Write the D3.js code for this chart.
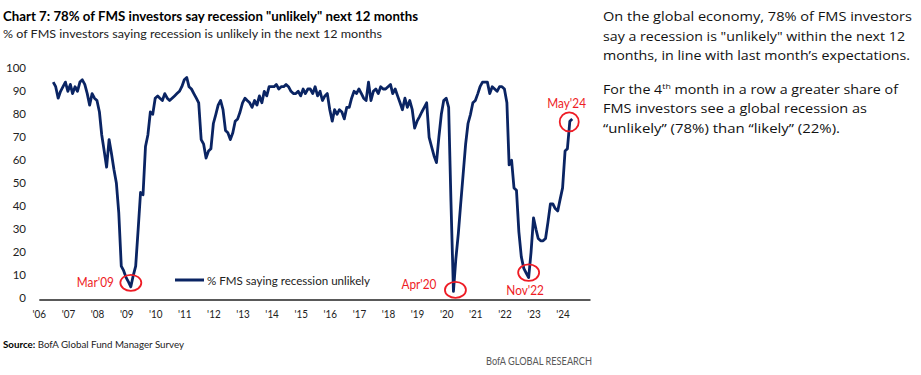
<!DOCTYPE html>
<html>
<head>
<meta charset="utf-8">
<script src="https://cdn.jsdelivr.net/npm/d3@7"></script>
<style>
  body { margin: 0; background: #fff; }
  svg { display: block; font-family: Lato, "Open Sans", sans-serif; }
</style>
</head>
<body>
<svg id="svg" width="921" height="375"></svg>
<script>

// monthly survey readings, first one is Jul 2006
var startMonth = new Date(2006, 6, 1);
var unlikely = [
  94, 92, 87, 90, 92, 94,                              // 2006 H2
  90, 93, 89, 92, 90, 94, 95, 93, 89, 84, 89, 87,      // 2007
  86, 81, 71, 64, 57, 69, 63, 56, 50, 37, 14, 12,      // 2008
  9, 7, 5, 10, 14, 30, 46, 45, 66, 71, 81, 80,         // 2009
  87, 88, 87, 86, 89, 87, 86, 87, 88, 89, 90, 92,      // 2010
  95, 96, 92, 91, 89, 87, 85, 69, 67, 61, 64, 65,      // 2011
  76, 80, 84, 86, 82, 73, 72, 69, 72, 77, 78, 81,      // 2012
  85, 87, 86, 85, 83, 86, 84, 88, 85, 90, 88, 92,      // 2013
  92, 92, 93, 91, 92, 92, 93, 92, 90, 89, 89, 90,      // 2014
  88, 91, 89, 91, 91, 89, 92, 88, 90, 86, 88, 89,      // 2015
  82, 77, 82, 80, 82, 81, 78, 83, 83, 87, 90, 89,      // 2016
  91, 89, 87, 86, 94, 86, 90, 91, 89, 92, 91, 91,      // 2017
  92, 93, 89, 91, 88, 85, 82, 87, 83, 86, 82, 74,      // 2018
  77, 79, 81, 83, 85, 70, 66, 62, 59, 70, 80, 86,      // 2019
  87, 83, 42, 3, 17, 28, 41, 54, 67, 76, 80, 85,       // 2020
  86, 89, 92, 94, 94, 94, 89, 92, 91, 90, 92, 92,      // 2021
  91, 85, 58, 60, 48, 47, 29, 18, 13, 11, 9, 20,       // 2022
  35, 30, 26, 25, 25, 26, 33, 41, 41, 39, 38, 43,      // 2023
  48, 64, 65, 77, 78                                   // 2024
];

var yTicks = [0, 10, 20, 30, 40, 50, 60, 70, 80, 90, 100];
var yearTicks = d3.range(2006, 2025);

var calloutLabels = ["Mar'09", "Apr'20", "Nov'22", "May'24"];
var calloutMonths = ["2009-03", "2020-04", "2022-11", "2024-05"];

var titleText = 'Chart 7: 78% of FMS investors say recession "unlikely" next 12 months';
var subtitleText = "% of FMS investors saying recession is unlikely in the next 12 months";
var legendText = "% FMS saying recession unlikely";

var data = unlikely.map(function (v, i) {
  return { date: d3.timeMonth.offset(startMonth, i), value: v };
});

var svg = d3.select("#svg");
var navy = "#0a2463";
var red = "#ee1c25";

// squeeze text to the width seen in the reference
var fit = function (sel, w) {
  sel.attr("textLength", w).attr("lengthAdjust", "spacingAndGlyphs");
};

var xScale = d3.scaleTime()
  .domain([new Date(2006, 0, 1), new Date(2024, 11, 10)])
  .range([38.8, 590]);

var yScale = d3.scaleLinear()
  .domain([0, 100])
  .range([298.3, 68.3]);

// titles
svg.append("text").attr("x", 3).attr("y", 20.5)
  .attr("font-size", 12.8).attr("font-weight", 700).attr("fill", "#000")
  .text(titleText).call(fit, 415);
svg.append("text").attr("x", 3).attr("y", 37.5)
  .attr("font-size", 12).attr("fill", "#222")
  .text(subtitleText).call(fit, 379);

// y axis, labels only
var yAxis = svg.append("g")
  .attr("transform", "translate(26,0)")
  .call(d3.axisLeft(yScale).tickValues(yTicks).tickSize(0).tickPadding(0));
yAxis.select(".domain").remove();
yAxis.selectAll("text")
  .attr("font-family", "Lato, sans-serif").attr("font-size", 11.5).attr("fill", "#222");

// x axis
var xAxis = svg.append("g")
  .attr("transform", "translate(0,299.5)")
  .call(d3.axisBottom(xScale)
    .tickValues(yearTicks.map(function (y) { return new Date(y, 0, 1); }))
    .tickFormat(function (d) { return "'" + d3.timeFormat("%y")(d); })
    .tickSize(0).tickPadding(10));
xAxis.select(".domain").attr("stroke", "#222").attr("stroke-width", 1.5);
xAxis.selectAll("text")
  .attr("font-family", "Lato, sans-serif").attr("font-size", 12).attr("fill", "#222")
  .call(fit, 13.5);

// the series
var line = d3.line()
  .x(function (d) { return xScale(d.date); })
  .y(function (d) { return yScale(d.value); });

svg.append("path")
  .datum(data)
  .attr("fill", "none")
  .attr("stroke", navy)
  .attr("stroke-width", 2.8)
  .attr("stroke-linejoin", "round")
  .attr("d", line);

// legend
svg.append("line").attr("x1", 175).attr("x2", 204).attr("y1", 280).attr("y2", 280)
  .attr("stroke", navy).attr("stroke-width", 3);
svg.append("text").attr("x", 207).attr("y", 284.5)
  .attr("font-size", 12).attr("fill", "#222")
  .text(legendText).call(fit, 163);

// red call-outs: circle nudge (dx, dy), radii, label anchor offset and width
var calloutStyle = [
  { dx: 0, dy: -4, rx: 10.5, ry: 8, tx: -17, ty: 0, anchor: "end", w: 37 },
  { dx: 2, dy: -1.5, rx: 10.5, ry: 8, tx: -19, ty: -5, anchor: "end", w: 35 },
  { dx: 0, dy: -5, rx: 10.5, ry: 8.3, tx: -3.5, ty: 17.5, anchor: "middle", w: 37.6 },
  { dx: -3, dy: 3, rx: 9.5, ry: 9.5, tx: -2.6, ty: -18.4, anchor: "middle", w: 38.7 }
];

var parseMonth = d3.timeParse("%Y-%m");
calloutLabels.forEach(function (lab, i) {
  var d = parseMonth(calloutMonths[i]);
  var pt = data.find(function (p) { return +p.date === +d; });
  var s = calloutStyle[i];
  var cx = xScale(pt.date) + s.dx;
  var cy = yScale(pt.value) + s.dy;
  svg.append("ellipse").attr("cx", cx).attr("cy", cy).attr("rx", s.rx).attr("ry", s.ry)
    .attr("fill", "none").attr("stroke", red).attr("stroke-width", 1.8);
  svg.append("text").attr("x", cx + s.tx).attr("y", cy + s.ty).attr("dy", "0.35em")
    .attr("text-anchor", s.anchor).attr("font-size", 13).attr("fill", red)
    .text(lab).call(fit, s.w);
});

// source + branding
var src = svg.append("text").attr("x", 3).attr("y", 347.5)
  .attr("font-size", 10).attr("fill", "#222");
src.append("tspan").attr("font-weight", 700).attr("fill", "#000").text("Source:");
src.append("tspan").text(" BofA Global Fund Manager Survey");
src.call(fit, 181);

svg.append("text").attr("x", 592).attr("y", 365).attr("text-anchor", "end")
  .attr("font-size", 11.5).attr("fill", "#595959")
  .text("BofA GLOBAL RESEARCH").call(fit, 106);

// commentary on the right
var note = svg.append("g").attr("font-family", "'Open Sans', Lato, sans-serif")
  .attr("font-size", 13).attr("fill", "#111");
note.append("text").attr("x", 603).attr("y", 21)
  .text("On the global economy, 78% of FMS investors").call(fit, 309);
note.append("text").attr("x", 603).attr("y", 40.5)
  .text('say a recession is "unlikely" within the next 12').call(fit, 302);
note.append("text").attr("x", 603).attr("y", 60)
  .text("months, in line with last month\u2019s expectations.").call(fit, 307);

var l4 = note.append("text").attr("x", 603).attr("y", 93.5);
l4.append("tspan").text("For the 4");
l4.append("tspan").attr("font-size", 8).attr("dy", -5).text("th");
l4.append("tspan").attr("dy", 5).text(" month in a row a greater share of");
l4.call(fit, 295);

note.append("text").attr("x", 603).attr("y", 113)
  .text("FMS investors see a global recession as").call(fit, 264);
note.append("text").attr("x", 603).attr("y", 132.5)
  .text("\u201Cunlikely\u201D (78%) than \u201Clikely\u201D (22%).").call(fit, 237);

</script>
</body>
</html>
